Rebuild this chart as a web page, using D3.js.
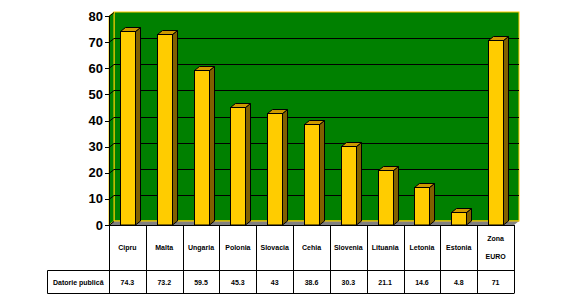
<!DOCTYPE html>
<html>
<head>
<meta charset="utf-8">
<style>
  body { margin: 0; background: #fff; }
  .ytick { font: bold 13px "Liberation Sans", Arial, sans-serif; text-anchor: end; }
  .cell { font: bold 7px "Liberation Sans", Arial, sans-serif; text-anchor: middle; }
</style>
</head>
<body>
<script src="https://d3js.org/d3.v7.min.js"></script>
<script>
var categories = ["Cipru", "Malta", "Ungaria", "Polonia", "Slovacia", "Cehia", "Slovenia", "Lituania", "Letonia", "Estonia", "Zona EURO"];
var values = [74.3, 73.2, 59.5, 45.3, 43, 38.6, 30.3, 21.1, 14.6, 4.8, 71];
var valueLabels = ["74.3", "73.2", "59.5", "45.3", "43", "38.6", "30.3", "21.1", "14.6", "4.8", "71"];
var yTicks = [0, 10, 20, 30, 40, 50, 60, 70, 80];
var seriesName = "Datorie publică";

var W = 566, H = 300;
var plotLeft = 109, plotRight = 514, plotTop = 16, base = 225;
var dx = 5, dy = 4;

var svg = d3.select("body").append("svg").attr("width", W).attr("height", H);

var x = d3.scaleBand().domain(categories).range([plotLeft, plotRight]);
var y = d3.scaleLinear().domain([0, 80]).range([base, plotTop]);

// back wall
svg.append("rect")
  .attr("x", plotLeft + dx).attr("y", y(80) - dy)
  .attr("width", plotRight - plotLeft).attr("height", base - y(80))
  .attr("fill", "#008000").attr("stroke", "#ffcc00").attr("stroke-width", 1);

// left side wall
svg.append("polygon")
  .attr("points", [[plotLeft, y(80)], [plotLeft + dx, y(80) - dy], [plotLeft + dx, base - dy], [plotLeft, base]].join(" "))
  .attr("fill", "#008000").attr("stroke", "#ffcc00").attr("stroke-width", 1);

// gridlines on back wall
svg.selectAll(".grid").data(yTicks.filter(function(d) { return d > 0 && d < 80; }))
  .enter().append("line")
  .attr("x1", plotLeft + dx).attr("x2", plotRight + dx)
  .attr("y1", function(d) { return Math.round(y(d) - dy) + 0.5; })
  .attr("y2", function(d) { return Math.round(y(d) - dy) + 0.5; })
  .attr("stroke", "#000").attr("stroke-width", 1);

// floor
svg.append("polygon")
  .attr("points", [[plotLeft, base], [plotLeft + dx, base - dy], [plotRight + dx, base - dy], [plotRight, base]].join(" "))
  .attr("fill", "#808080");
svg.append("line")
  .attr("x1", plotLeft + dx).attr("x2", plotRight + dx)
  .attr("y1", base - dy).attr("y2", base - dy)
  .attr("stroke", "#ffcc00");

// bars
var bw = 15;
var bars = svg.selectAll(".bar").data(values).enter().append("g");
bars.each(function(v, i) {
  var g = d3.select(this);
  var x0 = Math.round(x(categories[i]) + (x.bandwidth() - bw) / 2) + 0.5, x1 = x0 + bw, yt = Math.round(y(v)) + 0.5;
  g.append("polygon")
    .attr("points", [[x1, yt], [x1 + dx, yt - dy], [x1 + dx, base - dy], [x1, base]].join(" "))
    .attr("fill", "#806000").attr("stroke", "#000").attr("stroke-width", 1);
  g.append("polygon")
    .attr("points", [[x0, yt], [x0 + dx, yt - dy], [x1 + dx, yt - dy], [x1, yt]].join(" "))
    .attr("fill", "#cc9900").attr("stroke", "#000").attr("stroke-width", 1);
  g.append("rect")
    .attr("x", x0).attr("y", yt).attr("width", bw).attr("height", base - yt)
    .attr("fill", "#ffcc00").attr("stroke", "#000").attr("stroke-width", 1);
});

// y axis
svg.append("line").attr("x1", plotLeft + 0.5).attr("x2", plotLeft + 0.5).attr("y1", plotTop).attr("y2", base).attr("stroke", "#000");
svg.selectAll(".tk").data(yTicks).enter().append("path")
  .attr("d", function(d) { return "M" + (plotLeft - 4) + "," + (Math.round(y(d)) + 0.5) + "H" + plotLeft + "L" + (plotLeft + dx) + "," + (Math.round(y(d)) + 0.5 - dy); })
  .attr("fill", "none").attr("stroke", "#000");
svg.selectAll(".ytick").data(yTicks).enter().append("text")
  .attr("class", "ytick")
  .attr("x", plotLeft - 6).attr("y", function(d) { return y(d); })
  .attr("dy", "0.35em")
  .text(function(d) { return d; });

// data table
var row1b = 270.5, row2b = 293.5, labelLeft = 47.5;
svg.append("line").attr("x1", plotLeft).attr("x2", plotRight).attr("y1", base + 0.5).attr("y2", base + 0.5).attr("stroke", "#000");
svg.append("line").attr("x1", labelLeft).attr("x2", plotRight).attr("y1", row1b).attr("y2", row1b).attr("stroke", "#000");
svg.append("line").attr("x1", labelLeft).attr("x2", plotRight).attr("y1", row2b).attr("y2", row2b).attr("stroke", "#000");
svg.append("line").attr("x1", labelLeft).attr("x2", labelLeft).attr("y1", row1b).attr("y2", row2b).attr("stroke", "#000");
var bounds = categories.map(function(c) { return x(c); }).concat([plotRight]);
svg.selectAll(".vl").data(bounds).enter().append("line")
  .attr("x1", function(d) { return Math.round(d) + 0.5; }).attr("x2", function(d) { return Math.round(d) + 0.5; })
  .attr("y1", base).attr("y2", row2b).attr("stroke", "#000");

categories.forEach(function(c, i) {
  var cx = x(c) + x.bandwidth() / 2;
  var words = c.split(" ");
  words.forEach(function(w, j) {
    svg.append("text").attr("class", "cell")
      .attr("x", cx)
      .attr("y", (base + row1b) / 2 + (j - (words.length - 1) / 2) * 18)
      .attr("dy", "0.35em")
      .text(w);
  });
  svg.append("text").attr("class", "cell")
    .attr("x", cx).attr("y", (row1b + row2b) / 2 + 1).attr("dy", "0.35em")
    .text(valueLabels[i]);
});
svg.append("text").attr("class", "cell")
  .attr("x", (labelLeft + plotLeft) / 2).attr("y", (row1b + row2b) / 2 + 1).attr("dy", "0.35em")
  .text(seriesName);
</script>
</body>
</html>
